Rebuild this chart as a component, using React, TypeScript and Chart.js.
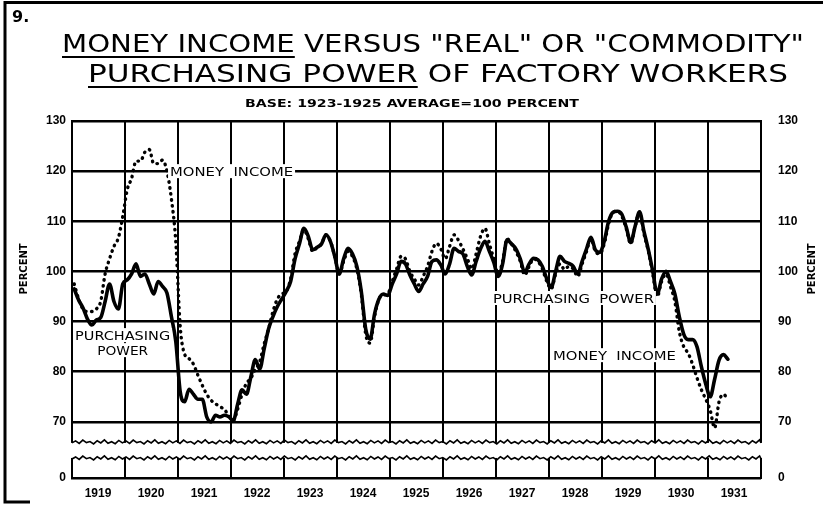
import { useEffect, useRef } from 'react';
import { Chart, registerables } from 'chart.js';

Chart.register(...registerables);

// ---------- data ----------
const FIRST_YEAR = 1919;
const YEARS = [1919, 1920, 1921, 1922, 1923, 1924, 1925, 1926, 1927, 1928, 1929, 1930, 1931];
const MONTHS_PER_YEAR = 12;

// Monthly index numbers (1923-1925 average = 100), Jan 1919 onward
const PURCHASING_POWER = [
  96.5, 94.3, 92.7, 90.5, 89.3, 90.3, 90.8, 94, 97.5, 94, 92.5, 97.5,
  98.3, 99.5, 101.5, 99, 99.5, 97.5, 95.5, 98, 97, 95.7, 91, 86,
  76, 74, 76.5, 75.5, 74.5, 74.5, 71, 70, 71.3, 71, 71.3, 71,
  70.2, 73.5, 76.4, 75.5, 79, 82.4, 80.5, 84.5, 88.5, 91, 93, 94.5,
  96, 98, 102.5, 105.5, 108.6, 107, 104.3, 104.8, 105.5, 107.3, 106, 103,
  99.5, 102.5, 104.6, 103.5, 101, 96, 88.5, 86.5, 91.5, 94.5, 95.5, 95.2,
  97.5, 99.5, 102, 101.5, 99.3, 97.5, 96, 97.5, 99, 102, 102.3, 101.3,
  99.5, 101.5, 104.6, 104, 103.5, 101, 99.3, 102, 104.5, 106, 104, 101.8,
  99, 101.5, 106.3, 105.5, 104.5, 102.5, 99.8, 101.5, 102.6, 102.3, 101, 98.5,
  96.8, 100, 103, 102, 101.6, 101, 99.5, 102, 104.5, 106.8, 104.3, 103.8,
  106, 110, 111.8, 112, 111.4, 108.8, 105.8, 109, 111.9, 108, 104.3, 100,
  95.5, 98.5, 100, 98, 95.5, 91, 87.5, 86.4, 86.4, 85, 81, 77.5,
  75, 78.5, 82.3, 83.4, 82.5,
];

const MONEY_INCOME = [
  97.5, 94.5, 92.5, 92, 92, 92.5, 94, 99.5, 102.5, 105, 106.7, 111,
  116.3, 118.6, 122, 122, 123.8, 124.3, 121.5, 121.5, 122.2, 120, 114.5, 106,
  89, 83.5, 82.6, 81.5, 79.3, 77.3, 75.5, 74.3, 73.6, 73, 72.5, 71.2,
  70.3, 72.5, 75.5, 77.7, 78.7, 80.5, 82, 85.5, 88.5, 92, 94.5, 95.5,
  96, 98.5, 103.5, 106, 108.3, 106.5, 104, 104.8, 105.5, 107.3, 106, 103,
  99.5, 102, 104, 103, 100.5, 95.5, 87.5, 85.7, 91, 94.5, 95.3, 95.5,
  98, 100.5, 103, 102.5, 100, 98.5, 97.3, 99, 101, 104, 105.6, 104.5,
  102.5, 105, 107.3, 106.2, 104.5, 102.6, 100.5, 103.5, 107, 108.6, 105.5, 102.5,
  99.5, 102, 106.5, 105.5, 104, 102, 99.3, 101, 102.5, 102, 100.5, 98,
  96.5, 99.5, 101.5, 100.4, 101, 100.5, 99, 101.5, 104, 106.5, 104, 103.5,
  105.5, 109.5, 111.8, 112, 111, 108.5, 105.5, 109, 111.8, 107.5, 104, 99.5,
  95, 98, 99.5, 97, 94, 88, 85, 83.7, 81.5, 78.8, 76.4, 74.5,
  72.3, 68.8, 74, 75.5, 74.4,
];

const Y_TICKS = [70, 80, 90, 100, 110, 120, 130];
const Y_MAX = 130;
// broken axis: the foot of the scale stands for 0
const Y_FOOT = 58.8;
const ZERO_LABEL = '0';
const BREAK_UPPER = 65.8;
const BREAK_LOWER = 62.8;

const FIGURE_NUMBER = '9.';
const TITLE_LINES = ['MONEY INCOME VERSUS "REAL" OR "COMMODITY"', 'PURCHASING POWER OF FACTORY WORKERS'];
const TITLE_UNDERLINED = ['MONEY INCOME', 'PURCHASING POWER'];
const SUBTITLE = 'BASE: 1923-1925 AVERAGE=100 PERCENT';
const AXIS_TITLE = 'PERCENT';

// in-chart labels, anchored in data space (month, value)
const LABELS = [
  { text: 'MONEY  INCOME', month: 22.2, value: 120, width: 123 },
  { text: 'PURCHASING', month: 0.7, value: 87.3, width: 95 },
  { text: 'POWER', month: 5.7, value: 84.3, width: 51 },
  { text: 'PURCHASING  POWER', month: 95.3, value: 94.7, width: 161 },
  { text: 'MONEY  INCOME', month: 108.9, value: 83.3, width: 123 },
];

// ---------- helpers ----------
const FONT = '"DejaVu Sans", "Liberation Sans", sans-serif';
const TICK_FONT = '"Liberation Sans", Arial, sans-serif';

function fitText(ctx: CanvasRenderingContext2D, text: string, left: number, baseline: number, width: number, font: string) {
  ctx.save();
  ctx.font = font;
  ctx.textAlign = 'left';
  ctx.textBaseline = 'alphabetic';
  const w = ctx.measureText(text).width;
  const sx = width / w;
  ctx.translate(left, baseline);
  ctx.scale(sx, 1);
  ctx.fillText(text, 0, 0);
  ctx.restore();
  return sx;
}

function wiggle(ctx: CanvasRenderingContext2D, x0: number, x1: number, y: number) {
  const pattern = [0, -2, 0.5, -2.8, -0.3, -1.4, 1, -2.2, 0, -3, 0.4, -1.2, 0.8, -2.5];
  ctx.beginPath();
  let i = 0;
  for (let x = x0; x <= x1; x += 3.6, i++) {
    const dy = pattern[i % pattern.length];
    if (i === 0) ctx.moveTo(x, y + dy);
    else ctx.lineTo(x, y + dy);
  }
  ctx.lineTo(x1, y);
  ctx.stroke();
}

const decorPlugin = {
  id: 'decor',
  beforeDraw(chart: any) {
    const ctx: CanvasRenderingContext2D = chart.ctx;
    ctx.save();
    ctx.fillStyle = '#fff';
    ctx.fillRect(0, 0, chart.width, chart.height);
    ctx.strokeStyle = '#000';
    ctx.fillStyle = '#000';
    // figure frame
    ctx.lineWidth = 3;
    ctx.beginPath();
    ctx.moveTo(823, 2.5);
    ctx.lineTo(5, 2.5);
    ctx.lineTo(5, 502);
    ctx.lineTo(30, 502);
    ctx.stroke();
    // figure number
    ctx.font = `bold 16px ${FONT}`;
    ctx.textBaseline = 'alphabetic';
    ctx.fillText(FIGURE_NUMBER, 12, 22);
    // title lines
    const lines = [
      { left: 62, baseline: 52, width: 742 },
      { left: 88, baseline: 82, width: 700 },
    ];
    TITLE_LINES.forEach((t, i) => {
      const L = lines[i];
      const font = `25px ${FONT}`;
      const sx = fitText(ctx, t, L.left, L.baseline, L.width, font);
      ctx.font = font;
      const uw = ctx.measureText(TITLE_UNDERLINED[i]).width * sx;
      ctx.lineWidth = 1.8;
      ctx.beginPath();
      ctx.moveTo(L.left, L.baseline + 5);
      ctx.lineTo(L.left + uw, L.baseline + 5);
      ctx.stroke();
    });
    fitText(ctx, SUBTITLE, 245, 107, 334, `bold 10px ${FONT}`);
    ctx.restore();
  },
  afterDatasetsDraw(chart: any) {
    const ctx: CanvasRenderingContext2D = chart.ctx;
    const xs = chart.scales.x;
    const ys = chart.scales.y;
    ctx.save();
    LABELS.forEach((l) => {
      const x = xs.getPixelForValue(l.month);
      const y = ys.getPixelForValue(l.value);
      ctx.fillStyle = '#fff';
      ctx.fillRect(x - 2, y - 7, l.width + 4, 14);
      ctx.fillStyle = '#000';
      fitText(ctx, l.text, x, y + 5, l.width, `13px ${FONT}`);
    });
    ctx.restore();
  },
  afterDraw(chart: any) {
    const ctx: CanvasRenderingContext2D = chart.ctx;
    const ys = chart.scales.y;
    const { left, right } = chart.chartArea;
    const yu = ys.getPixelForValue(BREAK_UPPER);
    const yl = ys.getPixelForValue(BREAK_LOWER);
    ctx.save();
    ctx.fillStyle = '#fff';
    ctx.fillRect(left - 3, yu, right - left + 6, yl - yu);
    ctx.strokeStyle = '#000';
    ctx.lineWidth = 1.6;
    wiggle(ctx, left, right, yu);
    wiggle(ctx, left, right, yl + 1);
    // axis titles, both reading upward
    ctx.fillStyle = '#000';
    ctx.font = `bold 10px ${FONT}`;
    ctx.textAlign = 'center';
    ctx.textBaseline = 'middle';
    const yMid = ys.getPixelForValue(100.5);
    [24, 812].forEach((x) => {
      ctx.save();
      ctx.translate(x, yMid);
      ctx.rotate(-Math.PI / 2);
      ctx.fillText(AXIS_TITLE, 0, 0);
      ctx.restore();
    });
    ctx.restore();
  },
};

export default function App() {
  const ref = useRef<HTMLCanvasElement | null>(null);
  useEffect(() => {
    if (!ref.current) return;
    const yearTicks = [...YEARS.map((_, i) => i * MONTHS_PER_YEAR), YEARS.length * MONTHS_PER_YEAR];
    const yTickValues = [Y_FOOT, ...Y_TICKS];
    const tickFont = { family: TICK_FONT, size: 12, weight: 'bold' as const };
    const yTickLabel = (v: any) => (Number(v) < Y_TICKS[0] ? ZERO_LABEL : String(v));
    const chart = new Chart(ref.current, {
      type: 'line',
      data: {
        datasets: [
          {
            label: 'Purchasing power',
            data: PURCHASING_POWER.map((v, i) => ({ x: i + 0.5, y: v })),
            borderColor: '#000',
            borderWidth: 3.6,
            pointRadius: 0,
            cubicInterpolationMode: 'monotone',
            borderJoinStyle: 'round',
            borderCapStyle: 'round',
          },
          {
            label: 'Money income',
            data: MONEY_INCOME.map((v, i) => ({ x: i + 0.5, y: v })),
            borderColor: '#000',
            borderWidth: 3.4,
            borderDash: [0.5, 5.5],
            borderCapStyle: 'round',
            pointRadius: 0,
            cubicInterpolationMode: 'monotone',
          },
        ],
      },
      options: {
        animation: false,
        responsive: false,
        devicePixelRatio: 1,
        layout: { padding: { top: 121, left: 0, right: 0, bottom: 0 } },
        plugins: { legend: { display: false }, tooltip: { enabled: false }, title: { display: false } },
        scales: {
          x: {
            type: 'linear',
            min: 0,
            max: YEARS.length * MONTHS_PER_YEAR,
            afterBuildTicks: (s: any) => {
              s.ticks = yearTicks.map((v) => ({ value: v }));
            },
            afterFit: (s: any) => {
              s.height = 27;
            },
            grid: { color: '#000', lineWidth: 2, drawTicks: false },
            border: { color: '#000', width: 2 },
            ticks: {
              autoSkip: false,
              maxRotation: 0,
              padding: 8,
              labelOffset: 26,
              color: '#000',
              font: tickFont,
              callback: (v: any) => {
                const n = Number(v) / MONTHS_PER_YEAR;
                return n < YEARS.length ? String(FIRST_YEAR + n) : '';
              },
            },
          },
          y: {
            type: 'linear',
            position: 'left',
            min: Y_FOOT,
            max: Y_MAX,
            afterBuildTicks: (s: any) => {
              s.ticks = yTickValues.map((v) => ({ value: v }));
            },
            afterFit: (s: any) => {
              s.width = 72;
            },
            grid: { color: '#000', lineWidth: 2.5, drawTicks: false },
            border: { color: '#000', width: 2 },
            ticks: { padding: 6, color: '#000', font: tickFont, callback: yTickLabel },
          },
          y2: {
            type: 'linear',
            position: 'right',
            min: Y_FOOT,
            max: Y_MAX,
            afterBuildTicks: (s: any) => {
              s.ticks = yTickValues.map((v) => ({ value: v }));
            },
            afterFit: (s: any) => {
              s.width = 62;
            },
            grid: { display: false, drawTicks: false },
            border: { color: '#000', width: 2 },
            ticks: { padding: 17, color: '#000', font: tickFont, callback: yTickLabel },
          },
        },
      },
      plugins: [decorPlugin],
    });
    return () => chart.destroy();
  }, []);
  return (
    <div style={{ position: 'fixed', left: 0, top: 0, width: 823, height: 505, background: '#fff' }}>
      <canvas ref={ref} width={823} height={505} style={{ display: 'block' }} />
    </div>
  );
}
